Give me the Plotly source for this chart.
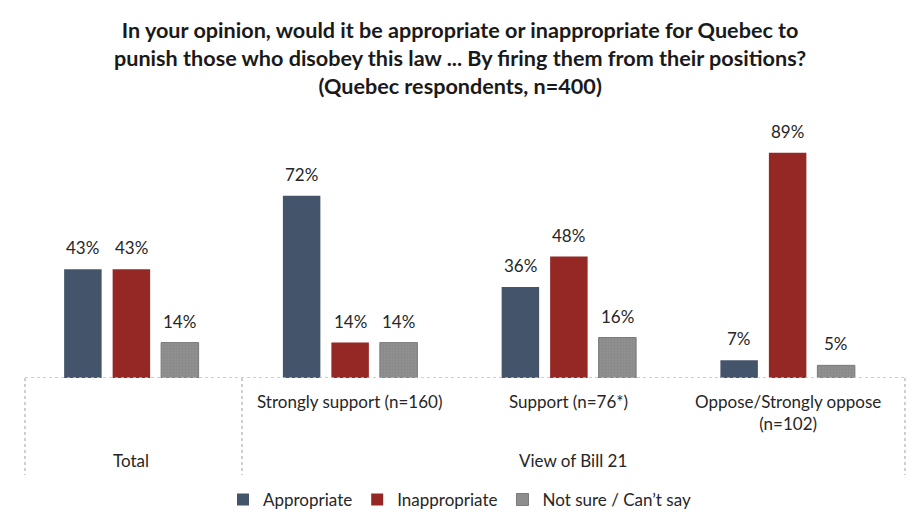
import plotly.graph_objects as go

groups = ["Total", "Strongly support (n=160)", "Support (n=76*)", "Oppose/Strongly oppose<br>(n=102)"]
appropriate = [43, 72, 36, 7]
inappropriate = [43, 14, 48, 89]
not_sure = [14, 14, 16, 5]
series_names = ["Appropriate", "Inappropriate", "Not sure / Can\u2019t say"]
colors = ["#44546A", "#952824", "#878787"]
title_lines = [
    "In your opinion, would it be appropriate or inappropriate for Quebec to",
    "punish those who disobey this law ... By firing them from their positions?",
    "(Quebec respondents, n=400)",
]
bottom_labels = ["Total", "View of Bill 21"]

FONT = "Lato, Carlito, Calibri, sans-serif"
TXT = "#262626"
W, H = 920, 531
ML, MR = 14, 31
BARGAP, BARGROUPGAP = 0.335, 0.227
n_groups = len(groups)
n_series = len(series_names)
group_px = (W - ML - MR) / n_groups
slot_px = group_px * (1 - BARGAP) / n_series

fig = go.Figure()
annotations = []
for k, (name, vals, col) in enumerate(zip(series_names, [appropriate, inappropriate, not_sure], colors)):
    marker = dict(color=col, line=dict(width=0))
    if name.startswith("Not sure"):
        marker = dict(color="#8c8c8c", line=dict(color="#7a7a7a", width=1),
                      pattern=dict(shape=".", fgcolor="#7d7d7d", bgcolor="#929292", size=3, solidity=0.5))
    fig.add_trace(go.Bar(x=list(range(n_groups)), y=vals, name=name, marker=marker))
    for i, v in enumerate(vals):
        annotations.append(dict(x=i, y=v, xref="x", yref="y", text=f"{v}%", showarrow=False,
                                xshift=(k - (n_series - 1) / 2) * slot_px, yshift=9, yanchor="bottom",
                                font=dict(size=17, color=TXT, family=FONT)))

lc = "#BFBFBF"
px0, pxm, px1 = 0.0034, 0.2514, 1.0091
shapes = [
    dict(type="line", xref="paper", yref="y", x0=px0, x1=px1, y0=0, y1=0, line=dict(color=lc, width=1.5, dash="dot")),
]
for xv in [px0, pxm, px1]:
    shapes.append(dict(type="line", xref="paper", yref="paper", x0=xv, x1=xv, y0=0, y1=-0.383,
                       line=dict(color=lc, width=1.5, dash="dot")))

for i, g in enumerate(groups):
    if i == 0:
        continue
    annotations.append(dict(x=i, y=-0.043, xref="x", yref="paper", text=g, showarrow=False,
                            yanchor="top", font=dict(size=17, color=TXT, family=FONT)))
annotations.append(dict(x=0, y=-0.328, xref="x", yref="paper", text=bottom_labels[0], showarrow=False,
                        yanchor="middle", font=dict(size=17, color=TXT, family=FONT)))
annotations.append(dict(x=(pxm + px1) / 2, y=-0.328, xref="paper", yref="paper", text=bottom_labels[1], showarrow=False,
                        yanchor="middle", font=dict(size=17, color=TXT, family=FONT)))
annotations.append(dict(x=0.5, y=1.265, xref="paper", yref="paper", yanchor="middle",
                        text="<b>" + "<br>".join(title_lines) + "</b>", showarrow=False,
                        font=dict(size=21.6, color="#1a1a1a", family=FONT), align="center"))

fig.update_layout(
    width=W, height=H,
    margin=dict(l=ML, r=MR, t=117, b=161),
    paper_bgcolor="white", plot_bgcolor="white",
    barmode="group", bargap=BARGAP, bargroupgap=BARGROUPGAP,
    xaxis=dict(range=[-0.5, n_groups - 0.5], showticklabels=False, showgrid=False, zeroline=False, showline=False, fixedrange=True),
    yaxis=dict(range=[0, 100], visible=False, fixedrange=True),
    shapes=shapes, annotations=annotations,
    legend=dict(orientation="h", x=0.5, xanchor="center", y=-0.482, yanchor="middle",
                font=dict(size=17, color=TXT, family=FONT), itemwidth=30),
    showlegend=True,
    font=dict(family=FONT),
)
fig.write_html("out.html")
